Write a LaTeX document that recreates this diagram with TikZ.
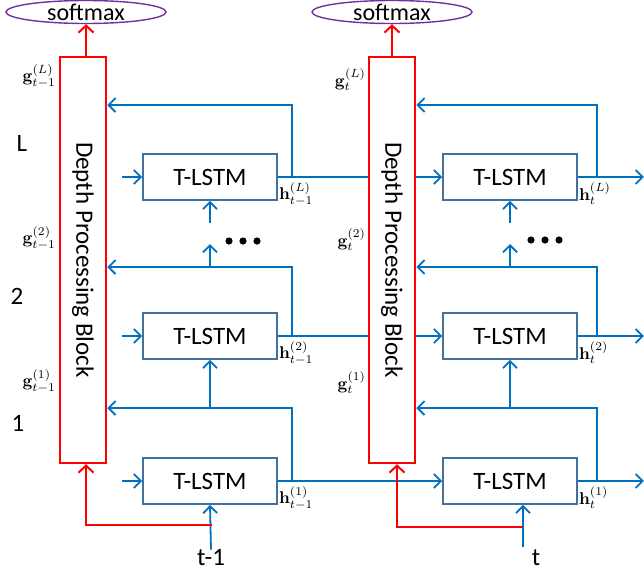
\documentclass[tikz,border=0pt]{standalone}
\usepackage[no-math]{fontspec}
\setmainfont{Carlito}
\usepackage{tikz}
\usetikzlibrary{arrows.meta}
\usetikzlibrary{shapes.geometric}
\usetikzlibrary{backgrounds}

\definecolor{lineblue}{RGB}{0,112,192}
\definecolor{boxblue}{RGB}{65,113,156}
\definecolor{smpurple}{RGB}{112,48,160}

\newcommand\stlab[1]{\scalebox{1.7}{$#1$}}

\begin{document}
\begin{tikzpicture}[x=1pt,y=-1pt,
    blk/.style={draw=red,line width=2.5pt,fill=white,minimum width=46pt,minimum height=406pt,inner sep=0pt},
    lstm/.style={draw=boxblue,line width=1.8pt,fill=white,minimum width=134pt,minimum height=46pt,inner sep=0pt,font=\fontsize{25}{28}\selectfont},
    smax/.style={ellipse,draw=smpurple,line width=1.4pt,minimum width=160pt,minimum height=23pt,inner sep=0pt,text height=0pt,text depth=0pt,font=\fontsize{24}{28}\selectfont},
    wire/.style={draw=lineblue,line width=1.8pt},
    arr/.style={wire,-{Straight Barb[length=7pt,width=14pt]}},
    redarr/.style={draw=red,line width=2pt,-{Straight Barb[length=7pt,width=15pt]}},
    gvec/.style={inner sep=1pt},
    bigtxt/.style={inner sep=0pt,font=\fontsize{25}{28}\selectfont}]
    \useasboundingbox (0,0) rectangle (644,573);

    % depth blocks and softmax outputs
    \node[blk] (dpb0) at (83,260) {};
    \node[blk] (dpb1) at (392,260) {};
    \node[bigtxt,rotate=-90] (dpb0txt) at (dpb0) {Depth Processing Block};
    \node[bigtxt,rotate=-90] (dpb1txt) at (dpb1) {Depth Processing Block};
    \node[smax] (sm0) at (86,12) {\raisebox{-8pt}{softmax}};
    \node[smax] (sm1) at (392,12) {\raisebox{-8pt}{softmax}};
    \draw[redarr] (sm0 |- dpb0.north) -- (sm0.south);
    \draw[redarr] (dpb1.north) -- (sm1.south);

    % T-LSTM cells, one row per level
    \foreach \lv/\y in {L/177,2/336,1/481} {
      \node[lstm] (ls0\lv) at (210,\y) {T-LSTM};
      \node[lstm] (ls1\lv) at (510,\y) {T-LSTM};
      \coordinate (in\lv) at ([xshift=-20pt]ls0\lv.west);
      \coordinate (out\lv) at ([xshift=66pt]ls1\lv.east);
      \draw[arr] (in\lv) -- (ls0\lv.west);
      \draw[arr] (ls1\lv.east) -- (out\lv);
      \begin{scope}[on background layer]
        \draw[arr] (ls0\lv.east) -- (ls1\lv.west);
      \end{scope}
    }

    % feedback from the cells into the depth blocks
    \foreach \s/\fx in {0/292,1/597} {
      \foreach \lv/\fy in {L/105,2/267,1/408} {
        \coordinate (tap\s\lv) at (\fx,0 |- ls\s\lv.east);
        \coordinate (turn\s\lv) at (\fx,\fy);
        \draw[arr] (tap\s\lv) -- (turn\s\lv) -- (turn\s\lv -| dpb\s.east);
      }
      \coordinate (dlo\s) at (ls\s 2 |- 0,244);
      \coordinate (dhi\s) at (ls\s 2 |- 0,223);
      \draw[arr] (ls\s 2 |- turn\s 2) -- (dlo\s);
      \draw[arr] (dhi\s) -- (ls\s L.south);
      \draw[arr] (ls\s 1 |- turn\s 1) -- (ls\s 2.south);
    }
    \foreach \d in {0,1,2} {
      \fill (229+14*\d,241) circle (3.6);
      \fill (531+14*\d,240) circle (3.6);
    }

    % inputs at t-1 and t
    \node[bigtxt] (x0) at (211,558) {t-1};
    \node[bigtxt] (x1) at (536,558) {t};
    \coordinate (x1top) at (523,547);
    \draw[arr] (x0.north) -- (ls01.south);
    \draw[arr] (x1top) -- (x1top |- ls11.south);
    \coordinate (r0) at (212,525);
    \coordinate (r1) at (523,527);
    \draw[redarr] (r0) -| (sm0 |- dpb0.south);
    \draw[redarr] (r1) -| ([xshift=5pt]dpb1.south);

    % level numbers
    \node[bigtxt] (lvL) at (22,143) {L};
    \node[bigtxt] (lv2) at (17,296) {2};
    \node[bigtxt] (lv1) at (18,423) {1};

    % state labels
    \node[gvec,anchor=east] (g0L) at (57,76) {\stlab{\mathbf{g}_{t-1}^{(L)}}};
    \node[gvec,anchor=east] (g02) at (57,238) {\stlab{\mathbf{g}_{t-1}^{(2)}}};
    \node[gvec,anchor=east] (g01) at (57,381) {\stlab{\mathbf{g}_{t-1}^{(1)}}};
    \node[gvec,anchor=east] (g1L) at (367,80) {\stlab{\mathbf{g}_{t}^{(L)}}};
    \node[gvec,anchor=east] (g12) at (367,240) {\stlab{\mathbf{g}_{t}^{(2)}}};
    \node[gvec,anchor=east] (g11) at (367,383) {\stlab{\mathbf{g}_{t}^{(1)}}};
    \node[gvec,anchor=west] (h0L) at ([yshift=-17pt]ls0L.east) {\stlab{\mathbf{h}_{t-1}^{(L)}}};
    \node[gvec,anchor=west] (h02) at ([yshift=-17pt]ls02.east) {\stlab{\mathbf{h}_{t-1}^{(2)}}};
    \node[gvec,anchor=west] (h01) at ([yshift=-17pt]ls01.east) {\stlab{\mathbf{h}_{t-1}^{(1)}}};
    \node[gvec,anchor=west] (h1L) at ([yshift=-17pt]ls1L.east) {\stlab{\mathbf{h}_{t}^{(L)}}};
    \node[gvec,anchor=west] (h12) at ([yshift=-17pt]ls12.east) {\stlab{\mathbf{h}_{t}^{(2)}}};
    \node[gvec,anchor=west] (h11) at ([yshift=-17pt]ls11.east) {\stlab{\mathbf{h}_{t}^{(1)}}};
\end{tikzpicture}
\end{document}
